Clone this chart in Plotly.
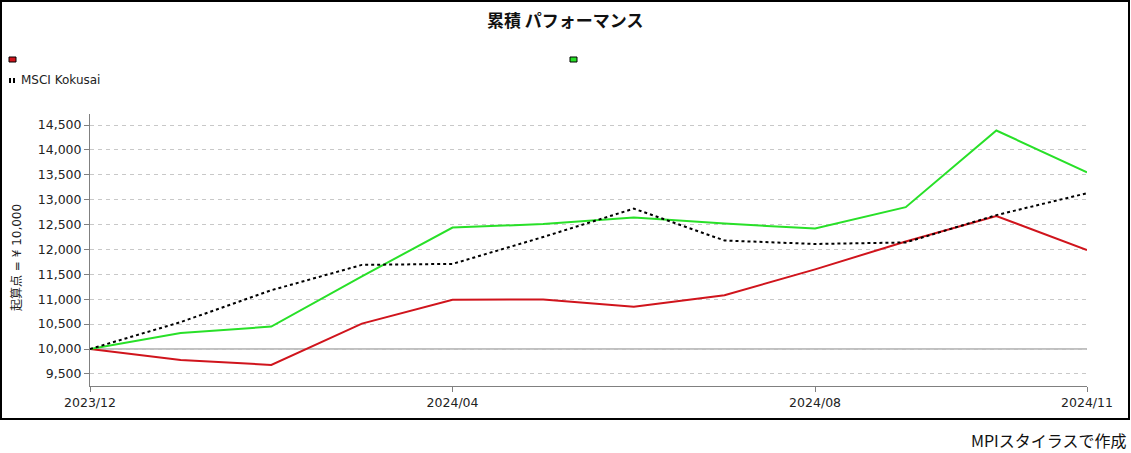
import plotly.graph_objects as go

# ---- data ----
months = ["2023/12", "2024/01", "2024/02", "2024/03", "2024/04", "2024/05",
          "2024/06", "2024/07", "2024/08", "2024/09", "2024/10", "2024/11"]
fund_red = [10000, 9780, 9680, 10510, 10990, 10995, 10850, 11080, 11600, 12160, 12670, 11990]
fund_green = [10000, 10320, 10450, 11460, 12440, 12510, 12640, 12520, 12420, 12850, 14390, 13550]
msci_kokusai = [10000, 10540, 11180, 11690, 11710, 12250, 12820, 12180, 12110, 12140, 12690, 13130]
series_names = ["", "", "MSCI Kokusai"]
tick_months = ["2023/12", "2024/04", "2024/08", "2024/11"]
y_ticks = [9500, 10000, 10500, 11000, 11500, 12000, 12500, 13000, 13500, 14000, 14500]
base_value = 10000

title_text = "累積 パフォーマンス"
y_title = "起算点 = ¥ 10,000"
footer_text = "MPIスタイラスで作成"

W, H = 1131, 453
L, R, T, B = 90, 1087, 114, 386
PW, PH = R - L, B - T


def px(x):
    return (x - L) / PW


def py(y):
    return (B - y) / PH


FONT = "DejaVu Sans, Verdana, Noto Sans CJK JP, sans-serif"
JFONT = "Noto Sans CJK JP, DejaVu Sans, sans-serif"

fig = go.Figure()
fig.add_trace(go.Scatter(x=months, y=fund_red, name=series_names[0], mode="lines",
                         line=dict(color="#d0141c", width=2), showlegend=False))
fig.add_trace(go.Scatter(x=months, y=fund_green, name=series_names[1], mode="lines",
                         line=dict(color="#28e028", width=2), showlegend=False))
fig.add_trace(go.Scatter(x=months, y=msci_kokusai, name=series_names[2], mode="lines",
                         line=dict(color="#000000", width=2, dash="3px,3px"), showlegend=False))

shapes = []
# baseline at start value
shapes.append(dict(type="line", xref="paper", yref="y", x0=0, x1=1, y0=base_value, y1=base_value,
                   line=dict(color="#808080", width=1), layer="below"))
# outer frame
shapes.append(dict(type="rect", xref="paper", yref="paper",
                   x0=px(1), x1=px(1129), y0=py(1), y1=py(419),
                   line=dict(color="#000000", width=2), fillcolor="rgba(0,0,0,0)"))
# legend swatches
shapes.append(dict(type="rect", xref="paper", yref="paper",
                   x0=px(9), x1=px(16), y0=py(57), y1=py(62),
                   line=dict(color="#000000", width=1), fillcolor="#d0141c"))
shapes.append(dict(type="rect", xref="paper", yref="paper",
                   x0=px(570), x1=px(577), y0=py(57), y1=py(62),
                   line=dict(color="#000000", width=1), fillcolor="#28e028"))
shapes.append(dict(type="rect", xref="paper", yref="paper",
                   x0=px(9), x1=px(11), y0=py(78), y1=py(83),
                   line=dict(width=0), fillcolor="#000000"))
shapes.append(dict(type="rect", xref="paper", yref="paper",
                   x0=px(13), x1=px(15), y0=py(78), y1=py(83),
                   line=dict(width=0), fillcolor="#000000"))

annotations = [
    dict(text=f"<b>{title_text}</b>", xref="paper", yref="paper", x=px(565), y=py(20),
         xanchor="center", yanchor="middle", showarrow=False,
         font=dict(family=JFONT, size=17, color="#111111")),
    dict(text=series_names[2], xref="paper", yref="paper", x=px(19), y=py(80),
         xanchor="left", yanchor="middle", showarrow=False,
         font=dict(family=FONT, size=12, color="#222222")),
    dict(text=y_title, xref="paper", yref="paper", x=px(16), y=py(258),
         xanchor="center", yanchor="middle", showarrow=False, textangle=-90,
         font=dict(family=FONT, size=12, color="#222222")),
    dict(text=footer_text, xref="paper", yref="paper", x=px(1129), y=py(440),
         xanchor="right", yanchor="middle", showarrow=False,
         font=dict(family=JFONT, size=16, color="#111111")),
]

fig.update_layout(
    width=W, height=H,
    margin=dict(l=L, r=W - R, t=T, b=H - B, pad=0),
    paper_bgcolor="white", plot_bgcolor="white",
    shapes=shapes, annotations=annotations,
    showlegend=False,
    font=dict(family=FONT, size=12, color="#222222"),
)
fig.update_xaxes(
    type="category", categoryorder="array", categoryarray=months,
    range=[0, len(months) - 1],
    tickmode="array", tickvals=tick_months, ticktext=tick_months,
    showgrid=False, showline=True, linecolor="#808080", linewidth=1,
    ticks="outside", ticklen=5, tickcolor="#808080",
    tickfont=dict(family=FONT, size=12.5, color="#222222"),
    zeroline=False,
)
fig.update_yaxes(
    range=[9257, 14721],
    tickmode="array", tickvals=y_ticks, ticktext=[f"{v:,}" for v in y_ticks],
    showgrid=True, gridcolor="#c8c8c8", gridwidth=1, griddash="4px,4px",
    showline=True, linecolor="#808080", linewidth=1,
    ticks="outside", ticklen=5, tickcolor="#808080",
    tickfont=dict(family=FONT, size=12.5, color="#222222"),
    zeroline=False,
)

fig.write_html("out.html", config={"displayModeBar": False},
               post_script="document.body.style.margin='0';document.body.style.overflow='hidden';")
